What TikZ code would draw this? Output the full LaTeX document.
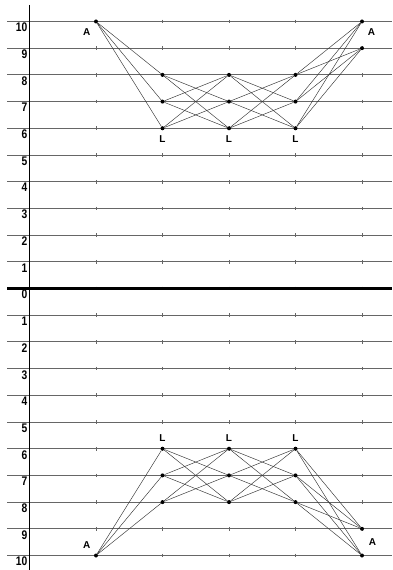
\documentclass[tikz,border=0pt]{standalone}
\usepackage{fontspec}
\setmainfont{Liberation Sans}
\newfontfamily\numfont[FakeStretch=0.82]{Liberation Sans}
\usetikzlibrary{positioning}

\begin{document}
\begin{tikzpicture}[x=66.5pt, y=26.7pt, font=\fontsize{10}{12}\selectfont\bfseries,
        pt/.style={circle, fill=black, inner sep=0pt, minimum size=4pt},
        lab/.style={inner sep=0pt},
        numlab/.style={inner sep=0pt, font=\numfont\fontsize{12.5}{14}\selectfont\bfseries},
        edge/.style={draw=black!80, line width=0.45pt},
        gline/.style={draw=black!60, line width=0.9pt}]
    \useasboundingbox (-0.4436,-10.543) rectangle (5.451,10.805);
    % grid lines, ticks and level numbers
    \foreach \i in {-10,...,10} {
        \draw[gline] (-0.338,\i) -- (5.451,\i);
        \foreach \c in {1,...,5}
            \draw[black!60, line width=0.6pt] (\c,\i+0.07) -- (\c,\i-0.07);
        \pgfmathtruncatemacro\n{abs(\i)}
        \node[numlab, anchor=north east, xshift=-2pt, yshift=-1.5pt] (num\i) at (0,\i) {\n};
    }
    \draw[line width=2.6pt] (-0.338,0) -- (5.451,0);
    \draw[line width=0.9pt] (0,10.62) -- (0,-10.543);

    % upper half
    \node[pt] (tA) at (1,10) {};
    \node[pt] (tA10) at (5,10) {};
    \node[pt] (tA9) at (5,9) {};
    \foreach \c in {2,3,4}
        \foreach \l in {6,7,8}
            \node[pt] (t\c\l) at (\c,\l) {};
    \foreach \l in {6,7,8} {
        \draw[edge] (tA) -- (t2\l);
        \draw[edge] (t4\l) -- (tA10);
        \draw[edge] (t4\l) -- (tA9);
    }
    \foreach \c/\d in {2/3, 3/4}
        \foreach \p/\q in {6/7, 6/8, 7/6, 7/8, 8/6, 8/7}
            \draw[edge] (t\c\p) -- (t\d\q);
    \node[lab, below left=5pt and 4pt of tA] (tAl) {A};
    \node[lab, below right=5pt and 4pt of tA10] (tA10l) {A};
    \foreach \c in {2,3,4}
        \node[lab, below=5pt of t\c6] (tL\c) {L};

    % lower half
    \node[pt] (bA) at (1,-10) {};
    \node[pt] (bA10) at (5,-10) {};
    \node[pt] (bA9) at (5,-9) {};
    \foreach \c in {2,3,4}
        \foreach \l in {6,7,8}
            \node[pt] (b\c\l) at (\c,-\l) {};
    \foreach \l in {6,7,8} {
        \draw[edge] (bA) -- (b2\l);
        \draw[edge] (b4\l) -- (bA10);
        \draw[edge] (b4\l) -- (bA9);
    }
    \foreach \c/\d in {2/3, 3/4}
        \foreach \p/\q in {6/7, 6/8, 7/6, 7/8, 8/6, 8/7}
            \draw[edge] (b\c\p) -- (b\d\q);
    \node[lab, above left=5pt and 4pt of bA] (bAl) {A};
    \node[lab, anchor=west] (bA9l) at (5.1,-9.5) {A};
    \foreach \c in {2,3,4}
        \node[lab, above=5pt of b\c6] (bL\c) {L};
\end{tikzpicture}
\end{document}
